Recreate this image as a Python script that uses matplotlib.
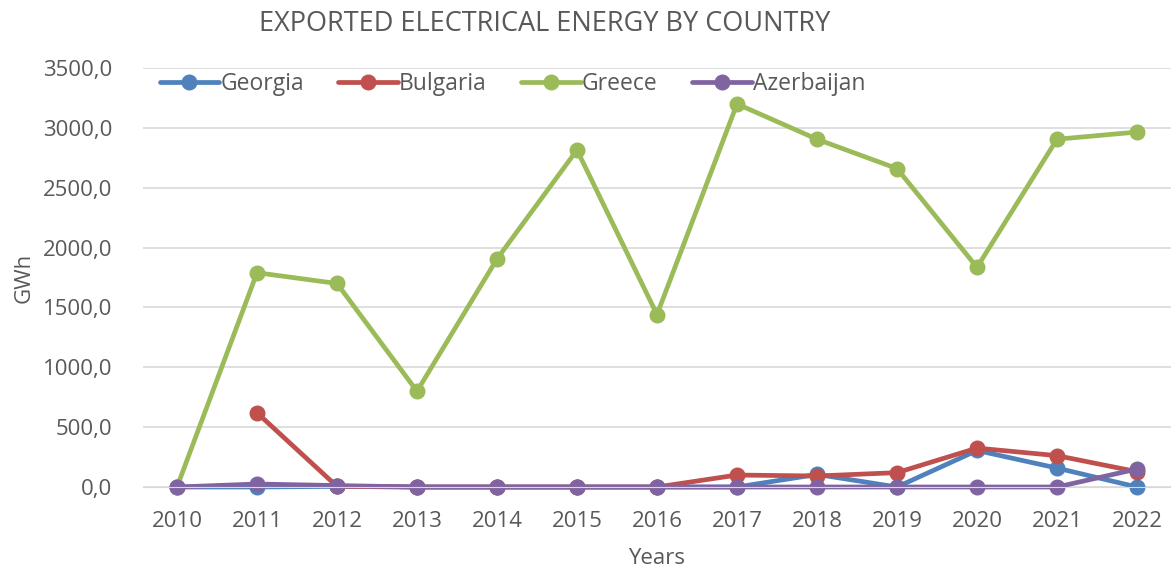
import numpy as np
import matplotlib.pyplot as plt
from matplotlib.ticker import FuncFormatter

years = ['2010', '2011', '2012', '2013', '2014', '2015', '2016',
         '2017', '2018', '2019', '2020', '2021', '2022']
georgia = [0, 0, 5, 0, 0, 0, 0, 0, 105, 0, 305, 158, 0]
bulgaria = [np.nan, 620, 5, 0, 0, 0, 0, 100, 92, 120, 325, 262, 128]
greece = [0, 1790, 1700, 800, 1905, 2815, 1440, 3200, 2905, 2660, 1835, 2905, 2965]
azerbaijan = [0, 25, 12, 0, 0, 0, 0, 0, 0, 0, 0, 0, 150]

plt.rcParams['font.family'] = ['Open Sans', 'DejaVu Sans']

fig = plt.figure(figsize=(11.71, 5.71), dpi=100)
ax = fig.add_axes([143/1171, 1-487/571, 1-143/1171, 419/571])

x = np.arange(len(years))
series = [('Georgia', georgia, '#4F81BD'), ('Bulgaria', bulgaria, '#C0504D'),
          ('Greece', greece, '#9BBB59'), ('Azerbaijan', azerbaijan, '#8064A2')]
for name, vals, col in series:
    ax.plot(x, vals, color=col, lw=3.4, marker='o', ms=10.5, label=name,
            solid_capstyle='round', clip_on=False)

ax.set_xlim(-0.425, 12.425)
ax.set_ylim(0, 3500)
ax.set_yticks(np.arange(0, 3501, 500))
ax.yaxis.set_major_formatter(FuncFormatter(lambda v, p: f'{v:.1f}'.replace('.', ',')))
ax.set_xticks(x)
ax.set_xticklabels(years)
ax.grid(axis='y', color='#D9D9D9', lw=1.2)
ax.set_axisbelow(True)
for s in ['top', 'right', 'left']:
    ax.spines[s].set_visible(False)
ax.spines['bottom'].set_color('#D9D9D9')
ax.tick_params(axis='y', length=0, labelsize=16, colors='#595959', pad=22)
ax.tick_params(axis='x', length=0, labelsize=16, colors='#595959', pad=17)

ax.set_ylabel('GWh', fontsize=16, color='#595959', labelpad=6)
ax.set_xlabel('Years', fontsize=16, color='#595959', labelpad=12)
fig.text(545/1171, 1-24/571, 'EXPORTED ELECTRICAL ENERGY BY COUNTRY',
         ha='center', va='center', fontsize=19.5, color='#595959')

leg = ax.legend(loc='upper left', bbox_to_anchor=(-0.004, 1.04), ncol=4, frameon=False,
                fontsize=16.5, handlelength=2.6, columnspacing=1.5, handletextpad=0.05,
                labelcolor='#595959')

fig.savefig('out.png', dpi=100)
